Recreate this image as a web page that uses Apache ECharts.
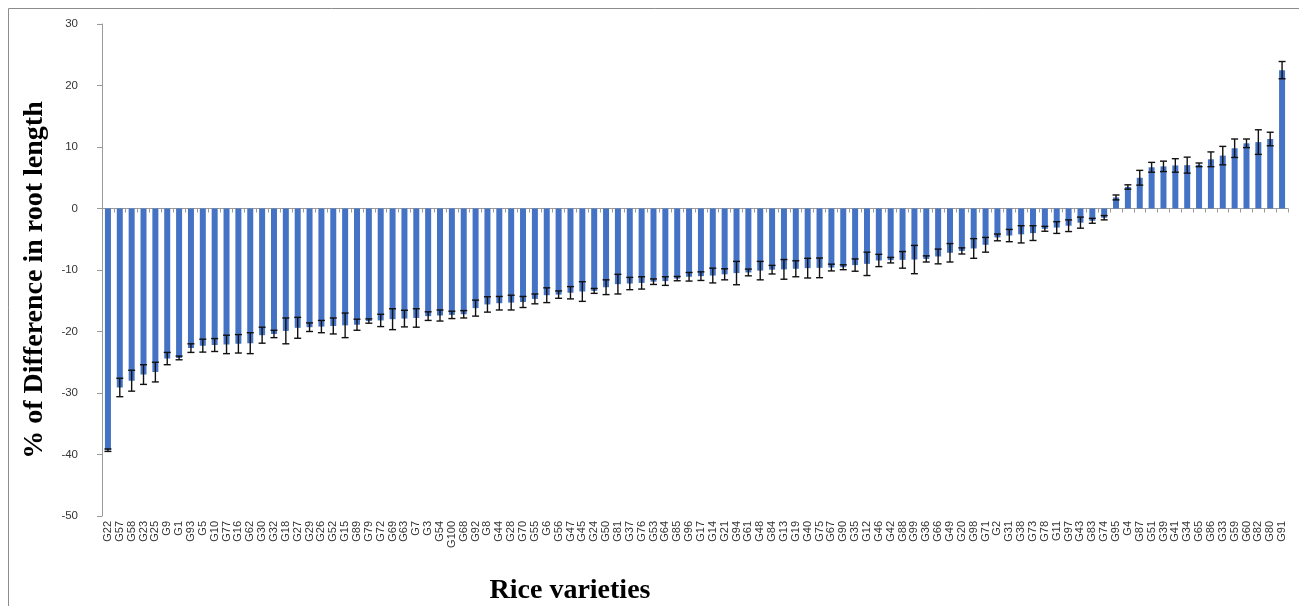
<!DOCTYPE html>
<html>
<head>
<meta charset="utf-8">
<script src="https://cdn.jsdelivr.net/npm/echarts@6/dist/echarts.min.js"></script>
<style>
html, body { margin: 0; padding: 0; background: #fff; }
#main { width: 1299px; height: 606px; }
</style>
</head>
<body>
<div id="main"></div>
<script>
// rice varieties, sorted as in the figure
var varieties = ['G22','G57','G58','G23','G25','G9','G1','G93','G5','G10',
	'G77','G16','G62','G30','G32','G18','G27','G29','G26','G52',
	'G15','G89','G79','G72','G69','G63','G7','G3','G54','G100',
	'G68','G92','G8','G44','G28','G70','G55','G6','G56','G47',
	'G45','G24','G50','G81','G37','G76','G53','G64','G85','G96',
	'G17','G14','G21','G94','G61','G48','G84','G13','G19','G40',
	'G75','G67','G90','G35','G12','G46','G42','G88','G99','G36',
	'G66','G49','G20','G98','G71','G2','G31','G38','G73','G78',
	'G11','G97','G43','G83','G74','G95','G4','G87','G51','G39',
	'G41','G34','G65','G86','G33','G59','G60','G82','G80','G91'];

// % of difference in root length
var diffPct = [-39.3,-29.1,-28.0,-27.0,-26.6,-24.4,-24.3,-22.7,-22.3,-22.2,
	-22.1,-22.0,-21.9,-20.6,-20.4,-19.9,-19.4,-19.3,-19.2,-19.1,
	-19.0,-18.9,-18.3,-18.2,-18.0,-17.9,-17.8,-17.5,-17.4,-17.3,
	-17.2,-16.2,-15.6,-15.4,-15.3,-15.2,-14.7,-14.1,-14.0,-13.7,
	-13.5,-13.4,-12.8,-12.3,-12.2,-12.1,-11.9,-11.8,-11.4,-11.1,
	-11.0,-10.9,-10.7,-10.5,-10.4,-10.1,-9.95,-9.9,-9.8,-9.7,
	-9.65,-9.6,-9.55,-9.2,-9.0,-8.45,-8.4,-8.35,-8.3,-8.2,
	-7.8,-7.2,-6.9,-6.5,-5.9,-4.7,-4.4,-4.2,-4.0,-3.3,
	-3.1,-2.8,-2.3,-2.0,-1.5,1.8,3.5,5.0,6.7,6.85,
	7.0,7.05,7.1,8.0,8.6,9.8,10.6,10.8,11.3,22.5];

// standard error
var stdErr = [0.2,1.5,1.7,1.6,1.6,1.0,0.3,0.7,1.05,1.05,
	1.5,1.5,1.7,1.3,0.6,2.1,1.7,0.7,1.0,1.3,
	2.0,0.9,0.35,1.0,1.7,1.35,1.5,0.7,0.9,0.6,
	0.6,1.3,1.25,1.1,1.2,0.9,0.8,1.2,0.6,1.0,
	1.6,0.4,1.2,1.6,1.0,1.0,0.45,0.7,0.35,0.7,
	0.7,1.2,0.9,1.9,0.55,1.5,0.7,1.6,1.3,1.6,
	1.6,0.55,0.4,1.0,1.9,1.0,0.45,1.35,2.3,0.5,
	1.2,1.5,0.5,1.6,1.2,0.55,1.0,1.4,1.2,0.4,
	0.95,0.95,0.9,0.4,0.35,0.4,0.35,1.2,0.8,0.85,
	1.1,1.3,0.3,1.2,1.5,1.5,0.7,2.0,1.1,1.4];

var errData = diffPct.map(function (v, i) {
	return [i, v - stdErr[i], v + stdErr[i]];
});

var myChart = echarts.init(document.getElementById('main'));

var option = {
	backgroundColor: '#fff',
	animation: false,
	grid: {
		left: 102,
		right: 11,
		top: 24,
		bottom: 90
	},
	graphic: [
		{
			type: 'rect',
			shape: { x: 8.5, y: 8.5, width: 1300, height: 620 },
			style: { fill: 'none', stroke: '#8c8c8c', lineWidth: 1 },
			silent: true
		},
		{
			type: 'text',
			x: 35, y: 280,
			rotation: Math.PI / 2,
			style: {
				text: '% of Difference in root length',
				font: 'bold 28px "Liberation Serif", "DejaVu Serif", serif',
				fill: '#000',
				align: 'center',
				verticalAlign: 'middle'
			}
		},
		{
			type: 'text',
			x: 570, y: 591,
			style: {
				text: 'Rice varieties',
				font: 'bold 28px "Liberation Serif", "DejaVu Serif", serif',
				fill: '#000',
				align: 'center',
				verticalAlign: 'middle'
			}
		}
	],
	xAxis: [
		{
			// labels along the bottom of the plot
			type: 'category',
			data: varieties,
			position: 'bottom',
			axisLine: { show: false, onZero: false },
			axisTick: { show: false },
			axisLabel: {
				interval: 0,
				rotate: 90,
				margin: 5,
				fontSize: 11,
				fontFamily: '"Liberation Sans", Arial, sans-serif',
				color: '#333'
			},
			splitLine: { show: false }
		},
		{
			// axis line crossing at zero
			type: 'category',
			data: varieties,
			position: 'bottom',
			axisLine: { show: true, onZero: true, lineStyle: { color: '#9a9a9a', width: 1 } },
			axisTick: { show: true, interval: 0, length: 4, lineStyle: { color: '#9a9a9a' } },
			axisLabel: { show: false },
			splitLine: { show: false }
		}
	],
	yAxis: {
		type: 'value',
		min: -50,
		max: 30,
		interval: 10,
		axisLine: { show: true, lineStyle: { color: '#9a9a9a' } },
		axisTick: { show: true, length: 5, lineStyle: { color: '#9a9a9a' } },
		axisLabel: {
			margin: 24,
			fontSize: 11.5,
			fontFamily: '"Liberation Sans", Arial, sans-serif',
			color: '#333'
		},
		splitLine: { show: false }
	},
	series: [
		{
			name: 'Difference',
			type: 'bar',
			xAxisIndex: 0,
			data: diffPct,
			barWidth: 6,
			itemStyle: { color: '#4472c4' }
		},
		{
			name: 'Error',
			type: 'custom',
			xAxisIndex: 0,
			data: errData,
			encode: { x: 0, y: [1, 2] },
			z: 10,
			renderItem: function (params, api) {
				var idx = api.value(0);
				var lo = api.coord([idx, api.value(1)]);
				var hi = api.coord([idx, api.value(2)]);
				var cap = 3.5;
				var st = { stroke: '#111', lineWidth: 1.4, fill: null };
				return {
					type: 'group',
					children: [
						{ type: 'line', shape: { x1: lo[0], y1: lo[1], x2: hi[0], y2: hi[1] }, style: st },
						{ type: 'line', shape: { x1: lo[0] - cap, y1: lo[1], x2: lo[0] + cap, y2: lo[1] }, style: st },
						{ type: 'line', shape: { x1: hi[0] - cap, y1: hi[1], x2: hi[0] + cap, y2: hi[1] }, style: st }
					]
				};
			}
		}
	]
};

myChart.setOption(option);
</script>
</body>
</html>
